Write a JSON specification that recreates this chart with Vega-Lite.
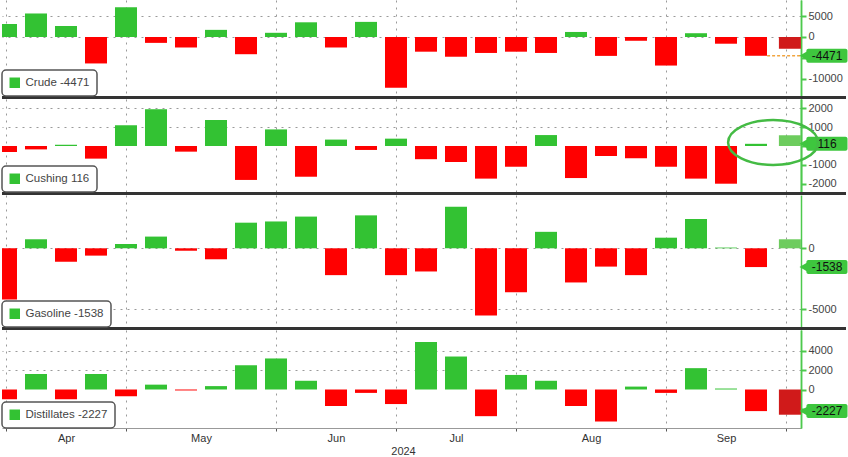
{
  "$schema": "https://vega.github.io/schema/vega-lite/v6.json",
  "padding": 0,
  "background": "white",
  "spacing": 3,
  "bounds": "flush",
  "config": {
    "view": {"stroke": null},
    "font": "Liberation Sans",
    "scale": {"continuousPadding": 0},
    "axisY": {
      "orient": "right", "title": null, "grid": true, "gridColor": "#9a9a9a", "gridDash": [2, 5],
      "domainColor": "#4dc94d", "domainWidth": 1.5, "tickColor": "#4dc94d", "tickSize": 5, "tickWidth": 2,
      "labelColor": "#444", "labelFontSize": 11, "labelPadding": 2, "labelFlush": false, "labelExpr": "'' + datum.value"
    },
    "legend": {
      "orient": "bottom-left", "offset": 0, "fillColor": "white", "strokeColor": "#555", "strokeWidth": 1.5,
      "cornerRadius": 4, "padding": 7, "symbolType": "square", "symbolSize": 110, "symbolFillColor": "#33c233",
      "symbolStrokeWidth": 0, "symbolOpacity": 1, "labelFontSize": 11.5, "labelColor": "#444", "labelOffset": 5
    }
  },
  "datasets": {
    "rows": [
      {"series": "Crude", "w": 0, "v": 3100}, {"series": "Crude", "w": 1, "v": 5600}, {"series": "Crude", "w": 2, "v": 2600},
      {"series": "Crude", "w": 3, "v": -6300}, {"series": "Crude", "w": 4, "v": 7100}, {"series": "Crude", "w": 5, "v": -1400},
      {"series": "Crude", "w": 6, "v": -2500}, {"series": "Crude", "w": 7, "v": 1700}, {"series": "Crude", "w": 8, "v": -4100},
      {"series": "Crude", "w": 9, "v": 1000}, {"series": "Crude", "w": 10, "v": 3500}, {"series": "Crude", "w": 11, "v": -2500},
      {"series": "Crude", "w": 12, "v": 3600}, {"series": "Crude", "w": 13, "v": -12100}, {"series": "Crude", "w": 14, "v": -3500},
      {"series": "Crude", "w": 15, "v": -4700}, {"series": "Crude", "w": 16, "v": -3800}, {"series": "Crude", "w": 17, "v": -3500},
      {"series": "Crude", "w": 18, "v": -3800}, {"series": "Crude", "w": 19, "v": 1200}, {"series": "Crude", "w": 20, "v": -4500},
      {"series": "Crude", "w": 21, "v": -900}, {"series": "Crude", "w": 22, "v": -6800}, {"series": "Crude", "w": 23, "v": 900},
      {"series": "Crude", "w": 24, "v": -1600}, {"series": "Crude", "w": 25, "v": -4471, "lab": "Crude -4471"},
      {"series": "Crude", "w": 26.13, "v": -2800, "kind": "extra"},

      {"series": "Cushing", "w": 0, "v": -320}, {"series": "Cushing", "w": 1, "v": -180}, {"series": "Cushing", "w": 2, "v": 70},
      {"series": "Cushing", "w": 3, "v": -670}, {"series": "Cushing", "w": 4, "v": 1100}, {"series": "Cushing", "w": 5, "v": 1950},
      {"series": "Cushing", "w": 6, "v": -300}, {"series": "Cushing", "w": 7, "v": 1380}, {"series": "Cushing", "w": 8, "v": -1800},
      {"series": "Cushing", "w": 9, "v": 880}, {"series": "Cushing", "w": 10, "v": -1630}, {"series": "Cushing", "w": 11, "v": 340},
      {"series": "Cushing", "w": 12, "v": -210}, {"series": "Cushing", "w": 13, "v": 390}, {"series": "Cushing", "w": 14, "v": -700},
      {"series": "Cushing", "w": 15, "v": -850}, {"series": "Cushing", "w": 16, "v": -1730}, {"series": "Cushing", "w": 17, "v": -1100},
      {"series": "Cushing", "w": 18, "v": 580}, {"series": "Cushing", "w": 19, "v": -1700}, {"series": "Cushing", "w": 20, "v": -530},
      {"series": "Cushing", "w": 21, "v": -650}, {"series": "Cushing", "w": 22, "v": -1100}, {"series": "Cushing", "w": 23, "v": -1730},
      {"series": "Cushing", "w": 24, "v": -2000}, {"series": "Cushing", "w": 25, "v": 116, "lab": "Cushing 116"},
      {"series": "Cushing", "w": 26.13, "v": 570, "kind": "extra"},

      {"series": "Gasoline", "w": 0, "v": -4200}, {"series": "Gasoline", "w": 1, "v": 740}, {"series": "Gasoline", "w": 2, "v": -1100},
      {"series": "Gasoline", "w": 3, "v": -600}, {"series": "Gasoline", "w": 4, "v": 350}, {"series": "Gasoline", "w": 5, "v": 960},
      {"series": "Gasoline", "w": 6, "v": -200}, {"series": "Gasoline", "w": 7, "v": -900}, {"series": "Gasoline", "w": 8, "v": 2100},
      {"series": "Gasoline", "w": 9, "v": 2200}, {"series": "Gasoline", "w": 10, "v": 2600}, {"series": "Gasoline", "w": 11, "v": -2200},
      {"series": "Gasoline", "w": 12, "v": 2700}, {"series": "Gasoline", "w": 13, "v": -2200}, {"series": "Gasoline", "w": 14, "v": -1900},
      {"series": "Gasoline", "w": 15, "v": 3400}, {"series": "Gasoline", "w": 16, "v": -5500}, {"series": "Gasoline", "w": 17, "v": -3600},
      {"series": "Gasoline", "w": 18, "v": 1350}, {"series": "Gasoline", "w": 19, "v": -2800}, {"series": "Gasoline", "w": 20, "v": -1500},
      {"series": "Gasoline", "w": 21, "v": -2200}, {"series": "Gasoline", "w": 22, "v": 870}, {"series": "Gasoline", "w": 23, "v": 2400},
      {"series": "Gasoline", "w": 24, "v": 60}, {"series": "Gasoline", "w": 25, "v": -1538, "lab": "Gasoline -1538"},
      {"series": "Gasoline", "w": 26.13, "v": 740, "kind": "extra"},

      {"series": "Distillates", "w": 0, "v": -1000}, {"series": "Distillates", "w": 1, "v": 1600}, {"series": "Distillates", "w": 2, "v": -1000},
      {"series": "Distillates", "w": 3, "v": 1600}, {"series": "Distillates", "w": 4, "v": -700}, {"series": "Distillates", "w": 5, "v": 500},
      {"series": "Distillates", "w": 6, "v": -100}, {"series": "Distillates", "w": 7, "v": 350}, {"series": "Distillates", "w": 8, "v": 2500},
      {"series": "Distillates", "w": 9, "v": 3200}, {"series": "Distillates", "w": 10, "v": 900}, {"series": "Distillates", "w": 11, "v": -1700},
      {"series": "Distillates", "w": 12, "v": -350}, {"series": "Distillates", "w": 13, "v": -1500}, {"series": "Distillates", "w": 14, "v": 4900},
      {"series": "Distillates", "w": 15, "v": 3400}, {"series": "Distillates", "w": 16, "v": -2750}, {"series": "Distillates", "w": 17, "v": 1500},
      {"series": "Distillates", "w": 18, "v": 900}, {"series": "Distillates", "w": 19, "v": -1700}, {"series": "Distillates", "w": 20, "v": -3300},
      {"series": "Distillates", "w": 21, "v": 300}, {"series": "Distillates", "w": 22, "v": -350}, {"series": "Distillates", "w": 23, "v": 2200},
      {"series": "Distillates", "w": 24, "v": 100}, {"series": "Distillates", "w": 25, "v": -2227, "lab": "Distillates -2227"},
      {"series": "Distillates", "w": 26.13, "v": -2600, "kind": "extra"}
    ]
  },
  "resolve": {"scale": {"y": "independent", "color": "independent"}, "legend": {"color": "independent"}},
  "vconcat": [
    {
      "width": 799, "height": 96,
      "data": {"name": "rows"},
      "transform": [{"filter": "datum.series == 'Crude'"}],
      "resolve": {"axis": {"y": "independent"}},
      "layer": [
        {
          "mark": {"type": "bar", "width": 22, "clip": true},
          "encoding": {
            "x": {"field": "w", "type": "quantitative", "scale": {"domain": [-0.1333, 26.5], "nice": false, "zero": false, "padding": 0},
                  "axis": {"values": [0, 4, 9, 13, 17, 22, 26], "grid": true, "gridColor": "#9a9a9a", "gridDash": [2, 5], "labels": false, "ticks": false, "domain": false, "title": null}},
            "y": {"field": "v", "type": "quantitative", "scale": {"domain": [-14050, 8810], "nice": false, "zero": false, "padding": 0},
                  "axis": {"orient": "right", "values": [5000, 0]}},
            "y2": {"datum": 0},
            "color": {"condition": [
              {"test": "datum.kind == 'extra' && datum.v < 0", "value": "#d01a1a"},
              {"test": "datum.kind == 'extra'", "value": "#6dcc5e"},
              {"test": "datum.v < 0", "value": "#ff0000"}], "value": "#33c233"}
          }
        },
        {
          "transform": [{"filter": "datum.w == 25"}],
          "mark": {"type": "rule", "color": "#f2a540", "strokeDash": [3, 2], "strokeWidth": 1.5},
          "encoding": {"x": {"datum": 25.37}, "x2": {"datum": 26.5}, "y": {"field": "v", "type": "quantitative", "axis": null}}
        },
        {
          "transform": [{"filter": "datum.w == 25"}],
          "mark": {"type": "rule", "color": "#333", "strokeWidth": 3, "yOffset": 1.5, "clip": false},
          "encoding": {"x": {"datum": -0.1333}, "x2": {"datum": 28.0}, "y": {"datum": -14050, "axis": null}}
        },
        {
          "transform": [{"filter": "datum.w == 25"}],
          "mark": {"type": "bar", "orient": "horizontal", "height": 14, "color": "#3ec63e", "cornerRadius": 2, "clip": false},
          "encoding": {"x": {"datum": 26.68}, "x2": {"datum": 28.05},
            "y": {"field": "v", "type": "quantitative", "axis": {"orient": "right", "values": [-5000, -10000]}}}
        },
        {
          "transform": [{"filter": "datum.w == 25"}],
          "mark": {"type": "point", "shape": "triangle-left", "filled": true, "size": 80, "color": "#3ec63e", "opacity": 1, "clip": false},
          "encoding": {"x": {"datum": 26.58}, "y": {"field": "v", "type": "quantitative", "axis": null}}
        },
        {
          "transform": [{"filter": "datum.w == 25"}],
          "mark": {"type": "text", "fontSize": 12, "color": "#111", "align": "center", "baseline": "middle", "clip": false},
          "encoding": {"x": {"datum": 27.37}, "y": {"field": "v", "type": "quantitative", "axis": null}, "text": {"field": "v", "type": "nominal"}}
        },
        {
          "transform": [{"filter": "datum.w == 25"}],
          "mark": {"type": "square", "opacity": 0},
          "encoding": {"x": {"datum": 0}, "y": {"datum": 0, "axis": null},
            "color": {"field": "lab", "type": "nominal", "scale": {"range": ["#33c233"]}, "legend": {"title": null}}}
        }
      ]
    },
    {
      "width": 799, "height": 93,
      "data": {"name": "rows"},
      "transform": [{"filter": "datum.series == 'Cushing'"}],
      "resolve": {"axis": {"y": "independent"}},
      "layer": [
        {
          "mark": {"type": "bar", "width": 22, "clip": true},
          "encoding": {
            "x": {"field": "w", "type": "quantitative", "scale": {"domain": [-0.1333, 26.5], "nice": false, "zero": false, "padding": 0},
                  "axis": {"values": [0, 4, 9, 13, 17, 22, 26], "grid": true, "gridColor": "#9a9a9a", "gridDash": [2, 5], "labels": false, "ticks": false, "domain": false, "title": null}},
            "y": {"field": "v", "type": "quantitative", "scale": {"domain": [-2440, 2493], "nice": false, "zero": false, "padding": 0},
                  "axis": {"orient": "right", "values": [2000, 1000]}},
            "y2": {"datum": 0},
            "color": {"condition": [
              {"test": "datum.kind == 'extra' && datum.v < 0", "value": "#d01a1a"},
              {"test": "datum.kind == 'extra'", "value": "#6dcc5e"},
              {"test": "datum.v < 0", "value": "#ff0000"}], "value": "#33c233"}
          }
        },
        {
          "transform": [{"filter": "datum.w == 25"}],
          "mark": {"type": "rule", "color": "#333", "strokeWidth": 3, "yOffset": 1.5, "clip": false},
          "encoding": {"x": {"datum": -0.1333}, "x2": {"datum": 28.0}, "y": {"datum": -2440, "axis": null}}
        },
        {
          "transform": [{"filter": "datum.w == 25"}],
          "mark": {"type": "bar", "orient": "horizontal", "height": 14, "color": "#3ec63e", "cornerRadius": 2, "clip": false},
          "encoding": {"x": {"datum": 26.68}, "x2": {"datum": 28.05},
            "y": {"field": "v", "type": "quantitative", "axis": {"orient": "right", "values": [0, -1000]}}}
        },
        {
          "transform": [{"filter": "datum.w == 25"}],
          "mark": {"type": "point", "shape": "triangle-left", "filled": true, "size": 80, "color": "#3ec63e", "opacity": 1, "clip": false},
          "encoding": {"x": {"datum": 26.58},
            "y": {"field": "v", "type": "quantitative", "axis": {"orient": "right", "values": [-2000]}}}
        },
        {
          "transform": [{"filter": "datum.w == 25"}],
          "mark": {"type": "text", "fontSize": 12, "color": "#111", "align": "center", "baseline": "middle", "clip": false},
          "encoding": {"x": {"datum": 27.37}, "y": {"field": "v", "type": "quantitative", "axis": null}, "text": {"field": "v", "type": "nominal"}}
        },
        {
          "transform": [{"filter": "datum.w == 25"}],
          "mark": {"type": "point", "shape": "M-1,0A1,0.5,0,1,1,1,0A1,0.5,0,1,1,-1,0Z", "size": 8100, "filled": false, "color": "#44bb44", "strokeWidth": 2.5, "opacity": 1, "clip": false},
          "encoding": {"x": {"datum": 25.57}, "y": {"datum": 186, "axis": null}}
        },
        {
          "transform": [{"filter": "datum.w == 25"}],
          "mark": {"type": "square", "opacity": 0},
          "encoding": {"x": {"datum": 0}, "y": {"datum": 0, "axis": null},
            "color": {"field": "lab", "type": "nominal", "scale": {"range": ["#33c233"]}, "legend": {"title": null}}}
        }
      ]
    },
    {
      "width": 799, "height": 132,
      "data": {"name": "rows"},
      "transform": [{"filter": "datum.series == 'Gasoline'"}],
      "layer": [
        {
          "mark": {"type": "bar", "width": 22, "clip": true},
          "encoding": {
            "x": {"field": "w", "type": "quantitative", "scale": {"domain": [-0.1333, 26.5], "nice": false, "zero": false, "padding": 0},
                  "axis": {"values": [0, 4, 9, 13, 17, 22, 26], "grid": true, "gridColor": "#9a9a9a", "gridDash": [2, 5], "labels": false, "ticks": false, "domain": false, "title": null}},
            "y": {"field": "v", "type": "quantitative", "scale": {"domain": [-6451, 4369], "nice": false, "zero": false, "padding": 0},
                  "axis": {"orient": "right", "values": [0, -5000]}},
            "y2": {"datum": 0},
            "color": {"condition": [
              {"test": "datum.kind == 'extra' && datum.v < 0", "value": "#d01a1a"},
              {"test": "datum.kind == 'extra'", "value": "#6dcc5e"},
              {"test": "datum.v < 0", "value": "#ff0000"}], "value": "#33c233"}
          }
        },
        {
          "transform": [{"filter": "datum.w == 25"}],
          "mark": {"type": "rule", "color": "#333", "strokeWidth": 3, "yOffset": 1.5, "clip": false},
          "encoding": {"x": {"datum": -0.1333}, "x2": {"datum": 28.0}, "y": {"datum": -6451}}
        },
        {
          "transform": [{"filter": "datum.w == 25"}],
          "mark": {"type": "bar", "orient": "horizontal", "height": 14, "color": "#3ec63e", "cornerRadius": 2, "clip": false},
          "encoding": {"x": {"datum": 26.68}, "x2": {"datum": 28.05}, "y": {"field": "v", "type": "quantitative"}}
        },
        {
          "transform": [{"filter": "datum.w == 25"}],
          "mark": {"type": "point", "shape": "triangle-left", "filled": true, "size": 80, "color": "#3ec63e", "opacity": 1, "clip": false},
          "encoding": {"x": {"datum": 26.58}, "y": {"field": "v", "type": "quantitative"}}
        },
        {
          "transform": [{"filter": "datum.w == 25"}],
          "mark": {"type": "text", "fontSize": 12, "color": "#111", "align": "center", "baseline": "middle", "clip": false},
          "encoding": {"x": {"datum": 27.37}, "y": {"field": "v", "type": "quantitative"}, "text": {"field": "v", "type": "nominal"}}
        },
        {
          "transform": [{"filter": "datum.w == 25"}],
          "mark": {"type": "square", "opacity": 0},
          "encoding": {"x": {"datum": 0}, "y": {"datum": 0},
            "color": {"field": "lab", "type": "nominal", "scale": {"range": ["#33c233"]}, "legend": {"title": null}}}
        }
      ]
    },
    {
      "width": 799, "height": 98,
      "data": {"name": "rows"},
      "transform": [{"filter": "datum.series == 'Distillates'"}],
      "resolve": {"axis": {"y": "independent"}},
      "layer": [
        {
          "mark": {"type": "bar", "width": 22, "clip": true},
          "encoding": {
            "x": {"field": "w", "type": "quantitative", "scale": {"domain": [-0.1333, 26.5], "nice": false, "zero": false, "padding": 0},
                  "axis": {"values": [0, 2, 4, 6.5, 9, 11, 13, 15, 17, 19.5, 22, 24, 26], "grid": true, "gridColor": "#9a9a9a", "gridDash": [2, 5],
                    "gridOpacity": {"condition": {"test": "indexof([0, 4, 9, 13, 17, 22, 26], datum.value) >= 0", "value": 1}, "value": 0},
                    "tickOpacity": {"condition": {"test": "indexof([0, 4, 9, 13, 17, 22, 26], datum.value) >= 0", "value": 1}, "value": 0},
                    "labelExpr": "datum.value == 2 ? 'Apr' : datum.value == 6.5 ? 'May' : datum.value == 11 ? 'Jun' : datum.value == 15 ? 'Jul' : datum.value == 19.5 ? 'Aug' : datum.value == 24 ? 'Sep' : ''",
                    "labelOverlap": false, "labelFlush": false, "labelBound": false, "domain": true, "domainColor": "#999", "domainWidth": 1,
                    "tickColor": "#555", "tickSize": 3, "labelPadding": 1, "labelFontSize": 11, "labelColor": "#333",
                    "title": "2024", "titleX": 401, "titleFontSize": 11, "titleFontWeight": "normal", "titleColor": "#333", "titlePadding": 2}},
            "y": {"field": "v", "type": "quantitative", "scale": {"domain": [-3969, 6134], "nice": false, "zero": false, "padding": 0},
                  "axis": {"orient": "right", "values": [4000, 2000]}},
            "y2": {"datum": 0},
            "color": {"condition": [
              {"test": "datum.kind == 'extra' && datum.v < 0", "value": "#d01a1a"},
              {"test": "datum.kind == 'extra'", "value": "#6dcc5e"},
              {"test": "datum.v < 0", "value": "#ff0000"}], "value": "#33c233"}
          }
        },
        {
          "transform": [{"filter": "datum.w == 25"}],
          "mark": {"type": "bar", "orient": "horizontal", "height": 14, "color": "#3ec63e", "cornerRadius": 2, "clip": false},
          "encoding": {"x": {"datum": 26.68}, "x2": {"datum": 28.05},
            "y": {"field": "v", "type": "quantitative", "axis": {"orient": "right", "values": [0, -2000]}}}
        },
        {
          "transform": [{"filter": "datum.w == 25"}],
          "mark": {"type": "point", "shape": "triangle-left", "filled": true, "size": 80, "color": "#3ec63e", "opacity": 1, "clip": false},
          "encoding": {"x": {"datum": 26.58}, "y": {"field": "v", "type": "quantitative", "axis": null}}
        },
        {
          "transform": [{"filter": "datum.w == 25"}],
          "mark": {"type": "text", "fontSize": 12, "color": "#111", "align": "center", "baseline": "middle", "clip": false},
          "encoding": {"x": {"datum": 27.37}, "y": {"field": "v", "type": "quantitative", "axis": null}, "text": {"field": "v", "type": "nominal"}}
        },
        {
          "transform": [{"filter": "datum.w == 25"}],
          "mark": {"type": "square", "opacity": 0},
          "encoding": {"x": {"datum": 0}, "y": {"datum": 0, "axis": null},
            "color": {"field": "lab", "type": "nominal", "scale": {"range": ["#33c233"]}, "legend": {"title": null}}}
        }
      ]
    }
  ]
}
